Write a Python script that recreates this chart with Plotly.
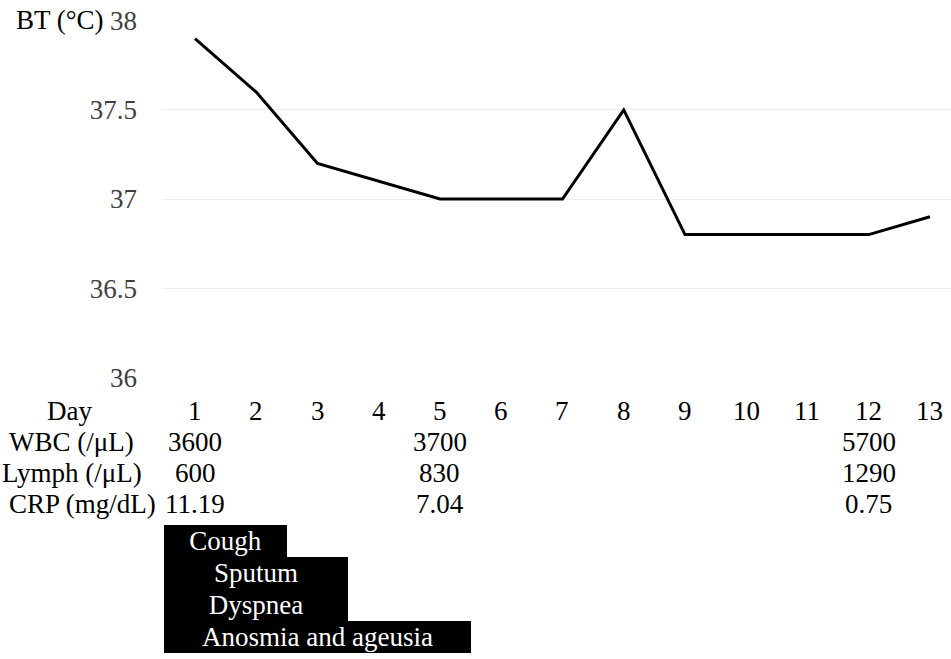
import plotly.graph_objects as go

days = list(range(1, 14))
bt = [37.9, 37.6, 37.2, 37.1, 37.0, 37.0, 37.0, 37.5, 36.8, 36.8, 36.8, 36.8, 36.9]

lab_days = [1, 5, 12]
wbc = ["3600", "3700", "5700"]
lymph = ["600", "830", "1290"]
crp = ["11.19", "7.04", "0.75"]

row_labels = ["Day", "WBC (/μL)", "Lymph (/μL)", "CRP (mg/dL)"]

symptoms = ["Cough", "Sputum", "Dyspnea", "Anosmia and ageusia"]
sym_start = [1, 1, 1, 1]
sym_end = [2, 3, 3, 5]

W, H = 951, 659
FONT = "Liberation Serif"
FS = 27

def py(px):
    return 1 - px / H

def px_(x):
    return x / W

fig = go.Figure()
fig.add_trace(go.Scatter(x=days, y=bt, mode="lines",
                         line=dict(color="black", width=3), showlegend=False,
                         xaxis="x", yaxis="y"))

fig.add_trace(go.Bar(
    y=list(range(len(symptoms))),
    x=[e - s + 1 for s, e in zip(sym_start, sym_end)],
    base=[s - 0.5 for s in sym_start],
    orientation="h",
    marker=dict(color="black", line=dict(width=0)),
    text=symptoms, textposition="inside", insidetextanchor="middle",
    textfont=dict(family=FONT, size=FS, color="white"),
    constraintext="none",
    showlegend=False, xaxis="x", yaxis="y2", hoverinfo="skip"))

annotations = []
annotations.append(dict(text="BT (°C)", x=px_(14), y=py(20), xref="paper", yref="paper",
                        xanchor="left", yanchor="middle", showarrow=False,
                        font=dict(family=FONT, size=FS, color="black")))

row_y = [411, 442, 473, 504]
row_cx = [69, 71, 72, 82]
for lbl, yy, cx in zip(row_labels, row_y, row_cx):
    annotations.append(dict(text=lbl, x=px_(cx), y=py(yy), xref="paper", yref="paper",
                            xanchor="center", yanchor="middle", showarrow=False,
                            font=dict(family=FONT, size=FS, color="black")))
for d in days:
    annotations.append(dict(text=str(d), x=d, y=py(row_y[0]), xref="x", yref="paper",
                            xanchor="center", yanchor="middle", showarrow=False,
                            font=dict(family=FONT, size=FS, color="black")))
for vals, yy in zip([wbc, lymph, crp], row_y[1:]):
    for d, v in zip(lab_days, vals):
        annotations.append(dict(text=v, x=d, y=py(yy), xref="x", yref="paper",
                                xanchor="center", yanchor="middle", showarrow=False,
                                font=dict(family=FONT, size=FS, color="black")))

fig.update_layout(
    width=W, height=H,
    margin=dict(l=0, r=0, t=0, b=0, autoexpand=False),
    paper_bgcolor="white", plot_bgcolor="white",
    bargap=0,
    xaxis=dict(domain=[px_(163), 1], range=[0.4776, 13.343], showticklabels=False,
               showgrid=False, zeroline=False, showline=False, ticks="", anchor="y",
               automargin=False),
    yaxis=dict(domain=[py(378), py(20)], range=[35.995, 38.005],
               tickvals=[36, 36.5, 37, 37.5, 38], ticktext=["36", "36.5", "37", "37.5", "38"],
               showgrid=True, gridcolor="#ededed", gridwidth=1, zeroline=False,
               showline=False, ticks="", ticklabelstandoff=25, automargin=False,
               tickfont=dict(family=FONT, size=FS, color="#404040"), anchor="x"),
    yaxis2=dict(domain=[py(653), py(525)], range=[3.5, -0.5], showticklabels=False,
                showgrid=False, zeroline=False, showline=False, anchor="x",
                automargin=False),
    annotations=annotations,
    uniformtext=dict(minsize=FS, mode="show"),
)

fig.write_html("out.html", config={"displayModeBar": False},
               post_script="document.body.style.margin='0';document.body.style.overflow='hidden';")
